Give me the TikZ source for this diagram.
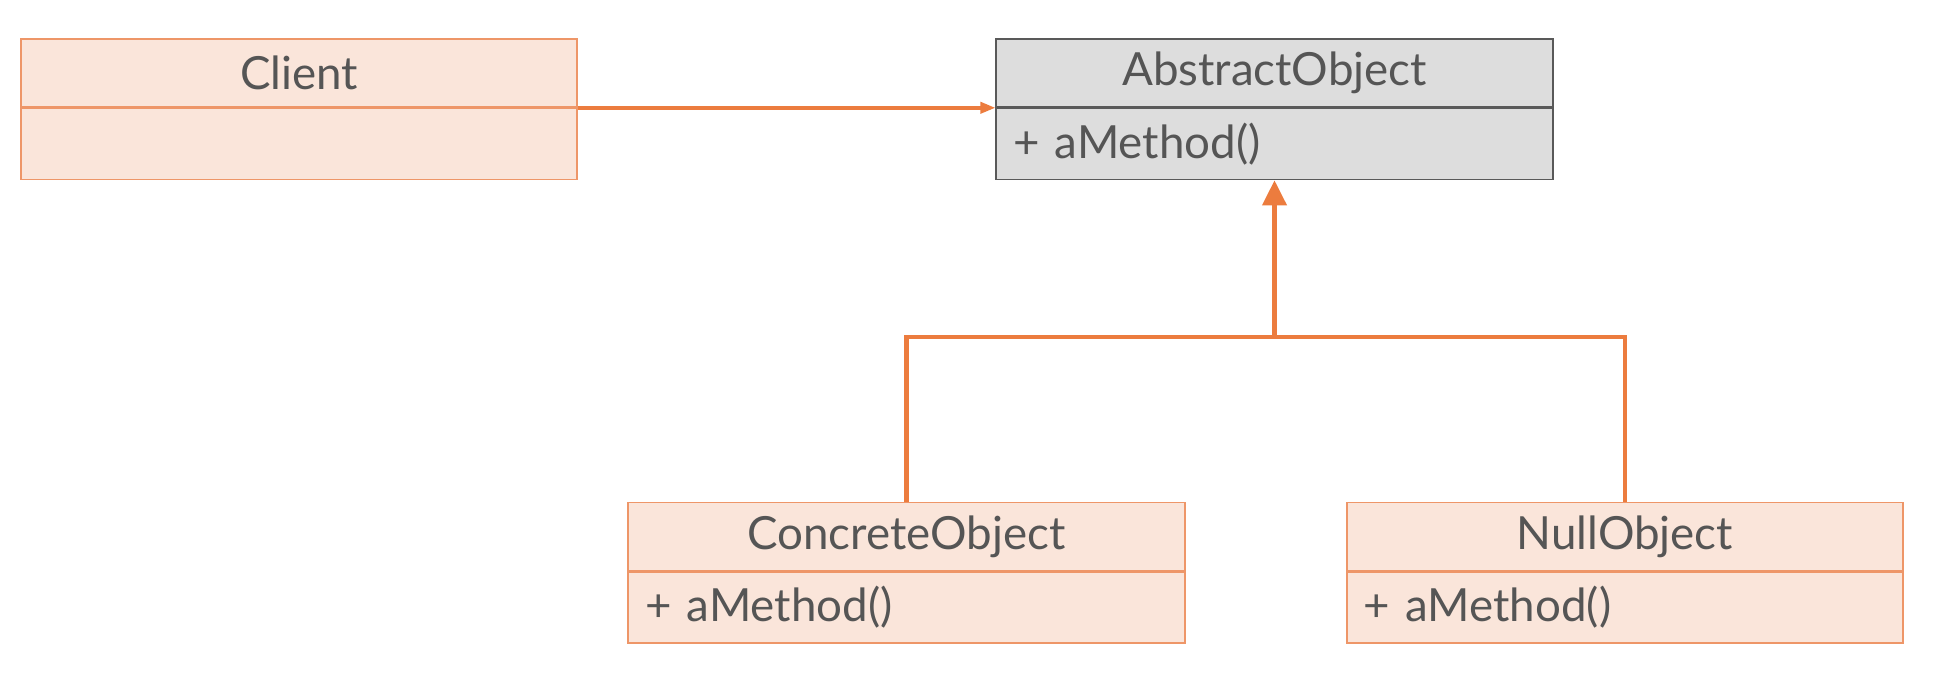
\documentclass[tikz,border=0pt]{standalone}
\usepackage{fontspec}
\setmainfont{Lato}
\usetikzlibrary{arrows.meta,positioning}
\definecolor{ln}{RGB}{236,124,62}
\definecolor{bd}{RGB}{238,150,104}
\definecolor{pch}{RGB}{250,229,218}
\definecolor{gry}{RGB}{221,221,221}
\definecolor{txt}{RGB}{85,85,85}

\begin{document}
\begin{tikzpicture}[
        clshead/.style={rectangle, draw=bd, line width=0.9pt, fill=pch, minimum width=11.13cm, minimum height=1.36cm, inner sep=0pt, text=txt, font=\fontsize{26}{31}\selectfont},
        clsbody/.style={rectangle, draw=bd, line width=0.9pt, fill=pch, minimum height=1.42cm, text width=10.45cm, inner xsep=0.34cm, inner ysep=0pt, align=left, text=txt, font=\fontsize{26}{31}\selectfont},
        absbox/.style={draw=black!65, fill=gry},
        assoc/.style={ln, line width=2pt, -{Triangle[length=0.3cm, width=0.22cm]}},
        gen/.style={ln, line width=2.3pt},
    ]
        \useasboundingbox (0,0) rectangle (38.86,13.64);

        % Client
        \node[clshead] (CLIH) at (5.98, 12.18) {Client};
        \node[clsbody, below=0pt of CLIH] (CLIB) {};

        % AbstractObject (grey)
        \node[clshead, absbox] (ABSH) at (25.49, 12.18) {AbstractObject};
        \node[clsbody, absbox, below=0pt of ABSH] (ABSB) {+ aMethod()};

        % subclasses
        \node[clshead] (CONH) at (18.13, 2.91) {ConcreteObject};
        \node[clsbody, below=0pt of CONH] (CONB) {+ aMethod()};
        \node[clshead] (NULH) at (32.50, 2.91) {NullObject};
        \node[clsbody, below=0pt of NULH] (NULB) {+ aMethod()};

        % association
        \draw[assoc] (CLIH.south east) -- (ABSH.south west);

        % generalization
        \coordinate (JOIN) at (ABSB.south |- 0, 6.9);
        \draw[gen] (CONH.north) |- (JOIN) -| (NULH.north);
        \draw[gen, -{Triangle[length=0.5cm, width=0.48cm]}] (JOIN) -- (ABSB.south);
    \end{tikzpicture}
\end{document}
